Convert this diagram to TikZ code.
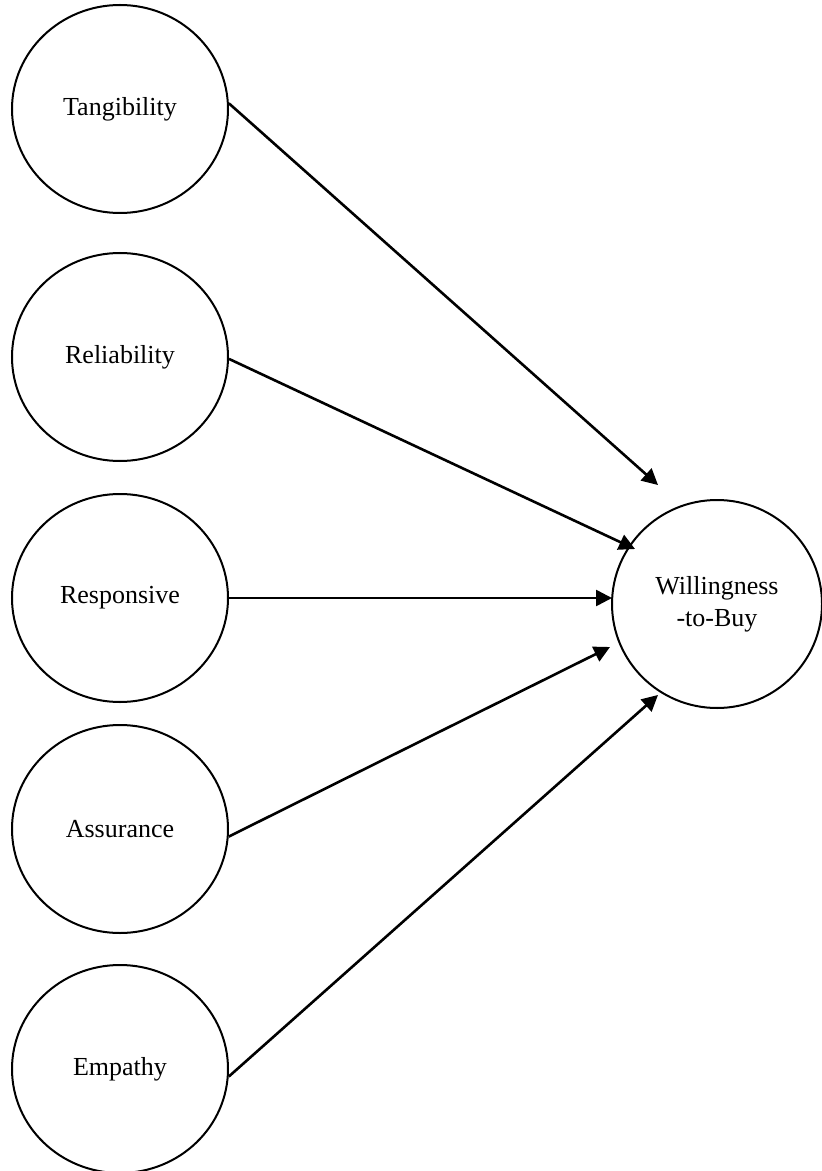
\documentclass[tikz,border=0pt]{standalone}
\usepackage{fontspec}
\setmainfont{Liberation Serif}
\usetikzlibrary{shapes.geometric,arrows.meta}
\tikzset{c/.style={draw,ellipse,line width=1pt,inner sep=0pt,minimum width=108pt,minimum height=104pt,font=\fontsize{13}{16}\selectfont}}
\tikzset{a/.style={-{Triangle[length=8pt,width=8pt]},line width=1.3pt}}

\begin{document}
\begin{tikzpicture}[x=0.5pt,y=-0.5pt]
        \useasboundingbox (0,0) rectangle (821,1171);
        % dimensions
        \node[c] (T) at (120,109) {Tangibility};
        \node[c] (R) at (120,357) {Reliability};
        \node[c] (S) at (120,598) {Responsive};
        \node[c] (A) at (120,829) {Assurance};
        \node[c] (E) at (120,1069) {Empathy};
        % outcome
        \node[c,minimum width=105pt,align=center] (W) at (717,604) {Willingness\\-to-Buy};
        \coordinate (wT) at (658,485);
        \coordinate (wR) at (635,549);
        \coordinate (wS) at (612,598);
        \coordinate (wA) at (610,647);
        \coordinate (wE) at (658,695);
        \draw[a] (T.3) -- (wT);
        \draw[a] (R.-1) -- (wR);
        \draw[a] (S.0) -- (wS);
        \draw[a] (A.-4) -- (wA);
        \draw[a] (E.-4) -- (wE);
      \end{tikzpicture}
\end{document}
